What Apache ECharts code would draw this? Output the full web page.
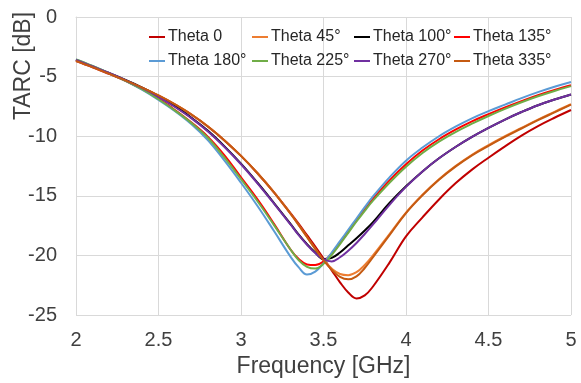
<!DOCTYPE html>
<html><head><meta charset="utf-8">
<script src="https://cdn.jsdelivr.net/npm/echarts@6/dist/echarts.min.js"></script>
<style>html,body{margin:0;padding:0;background:#fff}#c{width:581px;height:383px}</style>
</head><body><div id="c"></div>
<script>
// Frequency sample points [GHz]
const freqs = [2.0,2.1,2.2,2.3,2.4,2.5,2.6,2.7,2.8,2.9,3.0,3.1,3.2,3.3,
  3.35,3.4,3.45,3.5,3.55,3.6,3.65,3.7,3.75,3.8,
  3.9,4.0,4.1,4.2,4.3,4.4,4.5,4.6,4.7,4.8,4.9,5.0];

// TARC [dB] per excitation angle
const theta0 = [-3.7,-4.22,-4.77,-5.33,-5.93,-6.6,-7.35,-8.2,-9.2,-10.35,-11.65,-13.1,-14.7,-16.45,
  -17.35,-18.3,-19.25,-20.25,-21.25,-22.25,-23.1,-23.6,-23.35,-22.6,
  -20.6,-18.4,-16.8,-15.3,-13.95,-12.8,-11.8,-10.85,-9.95,-9.15,-8.45,-7.8];
const theta45 = [-3.68,-4.2,-4.75,-5.32,-5.92,-6.58,-7.33,-8.18,-9.18,-10.35,-11.65,-13.1,-14.7,-16.5,
  -17.45,-18.45,-19.45,-20.4,-21.1,-21.55,-21.65,-21.4,-20.8,-20.0,
  -18.2,-16.4,-14.9,-13.6,-12.5,-11.55,-10.75,-10.0,-9.3,-8.6,-7.95,-7.3];
const theta100 = [-3.6,-4.15,-4.7,-5.28,-5.92,-6.65,-7.5,-8.45,-9.55,-10.85,-12.3,-13.9,-15.6,-17.35,
  -18.25,-19.05,-19.75,-20.3,-20.2,-19.75,-19.15,-18.55,-17.9,-17.2,
  -15.6,-14.2,-12.95,-11.85,-10.9,-10.05,-9.3,-8.6,-7.97,-7.4,-6.92,-6.5];
const theta135 = [-3.6,-4.15,-4.72,-5.35,-6.05,-6.85,-7.8,-8.85,-10.05,-11.6,-13.45,-15.3,-17.35,-19.5,
  -20.3,-20.75,-20.8,-20.5,-19.85,-18.95,-18.0,-17.05,-16.1,-15.25,
  -13.7,-12.35,-11.2,-10.25,-9.45,-8.75,-8.15,-7.58,-7.05,-6.55,-6.12,-5.72];
const theta180 = [-3.55,-4.1,-4.7,-5.35,-6.1,-6.95,-7.9,-9.0,-10.35,-12.05,-13.9,-15.85,-17.95,-20.1,
  -21.0,-21.6,-21.35,-20.65,-19.75,-18.8,-17.85,-16.9,-15.95,-15.05,
  -13.45,-12.05,-10.95,-10.0,-9.2,-8.5,-7.9,-7.35,-6.8,-6.3,-5.85,-5.45];
const theta225 = [-3.55,-4.1,-4.7,-5.35,-6.05,-6.9,-7.85,-8.9,-10.15,-11.8,-13.6,-15.45,-17.45,-19.5,
  -20.4,-20.95,-21.1,-20.7,-19.95,-19.05,-18.1,-17.15,-16.25,-15.4,
  -13.9,-12.55,-11.4,-10.45,-9.65,-8.95,-8.3,-7.7,-7.15,-6.65,-6.2,-5.8];
const theta270 = [-3.6,-4.15,-4.7,-5.3,-5.95,-6.7,-7.55,-8.5,-9.6,-10.9,-12.35,-13.95,-15.65,-17.4,
  -18.3,-19.1,-19.8,-20.3,-20.5,-20.15,-19.6,-18.95,-18.2,-17.4,
  -15.75,-14.25,-12.95,-11.85,-10.9,-10.05,-9.3,-8.6,-7.97,-7.4,-6.92,-6.5];
const theta335 = [-3.68,-4.2,-4.75,-5.32,-5.92,-6.58,-7.33,-8.18,-9.18,-10.35,-11.65,-13.1,-14.7,-16.5,
  -17.45,-18.45,-19.45,-20.4,-21.2,-21.8,-22.0,-21.75,-21.05,-20.15,
  -18.3,-16.45,-14.95,-13.65,-12.55,-11.6,-10.8,-10.05,-9.35,-8.65,-8.0,-7.35];

const seriesNames = ['Theta 0','Theta 45°','Theta 100°','Theta 135°','Theta 180°','Theta 225°','Theta 270°','Theta 335°'];
const seriesValues = [theta0, theta45, theta100, theta135, theta180, theta225, theta270, theta335];
const seriesColors = ['#C00000','#ED7D31','#000000','#FF0000','#5B9BD5','#70AD47','#7030A0','#C55A11'];

const xTickLabels = ['2','2.5','3','3.5','4','4.5','5'];
const yTickLabels = ['0','-5','-10','-15','-20','-25'];
const xTitle = 'Frequency [GHz]';
const yTitle = 'TARC [dB]';

const chart = echarts.init(document.getElementById('c'), null, {renderer:'canvas'});
const FONT = 'Liberation Sans, Arial, sans-serif';
const labelFor = (arr) => (v) => { const t = arr.find(s => Math.abs(parseFloat(s) - v) < 1e-6); return t === undefined ? '' : t; };

// legend: 2 rows x 4 columns
const legCols = [149, 252, 354, 454];
const legRows = [29, 53];
const legends = seriesNames.map((n, i) => ({
  data: [n], left: legCols[i % 4], top: legRows[Math.floor(i / 4)],
  icon: 'rect', itemWidth: 16, itemHeight: 2, padding: 0,
  textStyle: {fontFamily: FONT, fontSize: 16, color: '#262626', padding: [0,0,0,-2]},
  selectedMode: false
}));

chart.setOption({
  animation: false,
  backgroundColor: '#fff',
  grid: {left: 76, right: 10, top: 17, bottom: 67, containLabel: false},
  legend: legends,
  xAxis: {
    type: 'value', min: 2, max: 5, interval: 0.5,
    name: xTitle, nameLocation: 'middle', nameGap: 32,
    nameTextStyle: {fontFamily: FONT, fontSize: 23, color: '#404040'},
    axisLine: {show: true, lineStyle: {color: '#D9D9D9', width: 1}},
    axisTick: {show: false},
    axisLabel: {fontFamily: FONT, fontSize: 20, color: '#404040', margin: 15, formatter: labelFor(xTickLabels)},
    splitLine: {show: true, lineStyle: {color: '#D9D9D9', width: 1}}
  },
  yAxis: {
    type: 'value', min: -25, max: 0, interval: 5,
    axisLine: {show: true, lineStyle: {color: '#D9D9D9', width: 1}},
    axisTick: {show: false},
    axisLabel: {fontFamily: FONT, fontSize: 20, color: '#404040', margin: 19, formatter: labelFor(yTickLabels)},
    splitLine: {show: true, lineStyle: {color: '#D9D9D9', width: 1}}
  },
  graphic: [{
    type: 'text', x: 24, y: 66, rotation: Math.PI / 2,
    style: {text: yTitle, font: '23px ' + FONT, fill: '#404040', align: 'center', verticalAlign: 'middle'}
  }],
  series: seriesNames.map((n, i) => ({
    name: n, type: 'line', smooth: 0.4, showSymbol: false, symbol: 'none',
    data: freqs.map((f, k) => [f, seriesValues[i][k]]),
    lineStyle: {color: seriesColors[i], width: 2},
    itemStyle: {color: seriesColors[i]}
  }))
});
</script></body></html>
